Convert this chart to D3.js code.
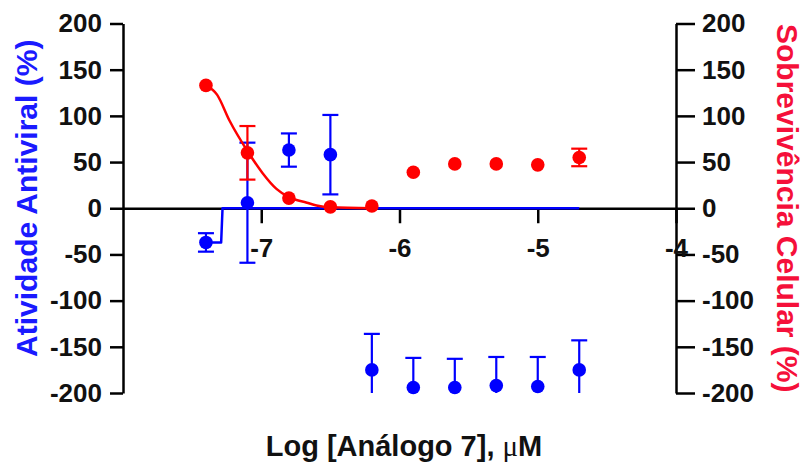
<!DOCTYPE html>
<html>
<head>
<meta charset="utf-8">
<script src="https://cdn.jsdelivr.net/npm/d3@7"></script>
<style>
  body { margin: 0; background: #fff; }
  text { font-family: Arial, "Liberation Sans", sans-serif; font-weight: bold; }
</style>
</head>
<body>
<div id="my_dataviz"></div>
<script>
// data (log concentration, uM)
const logConc = [-7.4, -7.1, -6.8, -6.5, -6.2, -5.9, -5.6, -5.3, -5.0, -4.7];
const antiviral = [-37, 6, 63, 58, -175, -194, -194, -192, -193, -175];
const antiviralSD = [10, 65, 18, 43, 39, 32, 31, 31, 32, 32];
const survival = [133, 60, 11, 1.5, 2.5, 39, 48, 48, 47, 55];
const survivalSD = [0, 29, 0, 0, 0, 0, 0, 0, 0, 9.5];

// fitted curves
const antiviralFitX = [-7.4, -7.29, -7.28, -4.7];
const antiviralFitY = [-37, -37, 0, 0];
const survivalFitX = [-7.4, -7.32, -7.23, -7.1, -6.99, -6.89, -6.8, -6.67, -6.6, -6.5, -6.2];
const survivalFitY = [133, 123, 95, 62, 38, 21, 12, 6, 3, 1, 0];

const xTicks = [-7, -6, -5, -4];
const yTicks = [-200, -150, -100, -50, 0, 50, 100, 150, 200];

const blue = "#0000ff", red = "#ff0000";

// dim
const W = 806, H = 467;
const svg = d3.select("#my_dataviz")
  .append("svg")
    .attr("width", W)
    .attr("height", H);

const x = d3.scaleLinear().domain([-8, -4]).range([123, 676]);
const y = d3.scaleLinear().domain([-200, 200]).range([393, 23.5]);

// axes
const yl = svg.append("g")
  .attr("transform", `translate(${x(-8)},0)`)
  .call(d3.axisLeft(y).tickValues(yTicks).tickSize(13).tickSizeOuter(0).tickPadding(8).tickFormat(d => String(d)));
const yr = svg.append("g")
  .attr("transform", `translate(${x(-4)},0)`)
  .call(d3.axisRight(y).tickValues(yTicks).tickSize(19).tickSizeOuter(0).tickPadding(7).tickFormat(d => String(d)));
const xa = svg.append("g")
  .attr("transform", `translate(0,${y(0)})`)
  .call(d3.axisBottom(x).tickValues(xTicks).tickSize(15).tickSizeOuter(0).tickPadding(15).tickFormat(d => String(d)));

[yl, yr, xa].forEach(g => {
  g.selectAll("path, line").attr("stroke", "#000").attr("stroke-width", 2.5);
  g.selectAll("text").attr("fill", "#111").style("font-size", "26px");
});

// axis titles
svg.append("text")
  .attr("transform", `translate(37,${(y(200) + y(-200)) / 2 - 10}) rotate(-90)`)
  .style("text-anchor", "middle")
  .style("font-size", "30px")
  .attr("fill", "#1a1aff")
  .text("Atividade Antiviral (%)");

svg.append("text")
  .attr("transform", `translate(777,${(y(200) + y(-200)) / 2}) rotate(90)`)
  .style("text-anchor", "middle")
  .style("font-size", "30px")
  .attr("fill", "#f5103a")
  .text("Sobrevivência Celular (%)");

const xt = svg.append("text")
  .attr("x", 404)
  .attr("y", 456)
  .style("text-anchor", "middle")
  .style("font-size", "29px")
  .attr("fill", "#111");
xt.append("tspan").text("Log [Análogo 7], ");
xt.append("tspan").style("font-family", "'Liberation Serif', serif").style("font-weight", "normal").text("μ");
xt.append("tspan").text("M");

// error bars helper
function errorBars(vals, sds, color) {
  const g = svg.append("g").attr("stroke", color).attr("stroke-width", 2.2);
  logConc.forEach((c, i) => {
    if (!sds[i]) return;
    const lo = vals[i] - sds[i], hi = vals[i] + sds[i];
    const cx = x(c);
    g.append("line")
      .attr("x1", cx).attr("x2", cx)
      .attr("y1", y(Math.max(lo, -200))).attr("y2", y(Math.min(hi, 200)));
    [lo, hi].forEach(v => {
      if (v < -200 || v > 200) return;
      g.append("line")
        .attr("x1", cx - 8).attr("x2", cx + 8)
        .attr("y1", y(v)).attr("y2", y(v));
    });
  });
}

const line = d3.line().x(d => x(d[0])).y(d => y(d[1]));

// antiviral (blue)
svg.append("path")
  .datum(d3.zip(antiviralFitX, antiviralFitY))
  .attr("fill", "none")
  .attr("stroke", blue)
  .attr("stroke-width", 2.5)
  .attr("stroke-linejoin", "round")
  .attr("d", line);
errorBars(antiviral, antiviralSD, blue);
svg.append("g")
  .selectAll("circle")
  .data(d3.zip(logConc, antiviral))
  .join("circle")
    .attr("cx", d => x(d[0]))
    .attr("cy", d => y(d[1]))
    .attr("r", 6.8)
    .attr("fill", blue);

// survival (red)
svg.append("path")
  .datum(d3.zip(survivalFitX, survivalFitY))
  .attr("fill", "none")
  .attr("stroke", red)
  .attr("stroke-width", 2.5)
  .attr("d", line.curve(d3.curveMonotoneX));
errorBars(survival, survivalSD, red);
svg.append("g")
  .selectAll("circle")
  .data(d3.zip(logConc, survival))
  .join("circle")
    .attr("cx", d => x(d[0]))
    .attr("cy", d => y(d[1]))
    .attr("r", 6.8)
    .attr("fill", red);
</script>
</body>
</html>
